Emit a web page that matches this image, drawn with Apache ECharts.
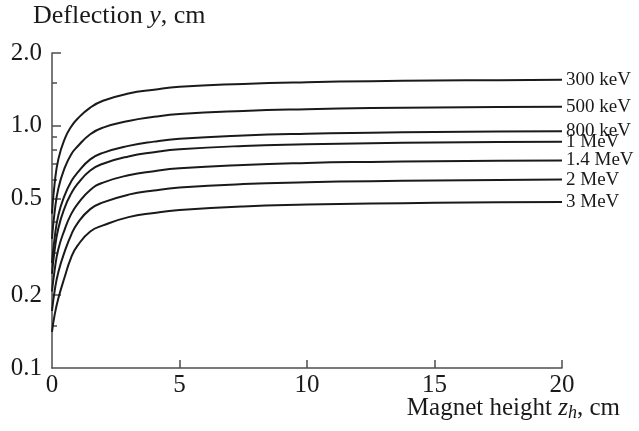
<!DOCTYPE html>
<html>
<head>
<meta charset="utf-8">
<script src="https://cdn.jsdelivr.net/npm/echarts@6/dist/echarts.min.js"></script>
<style>
  html, body { margin: 0; padding: 0; background: #fff; }
  #chart { width: 639px; height: 431px; }
</style>
</head>
<body>
<div id="chart"></div>
<script>
// Magnet height z_h, cm
const zh = [0, 0.1, 0.25, 0.5, 0.75, 1, 1.5, 2, 3, 4, 5, 7.5, 10, 12.5, 15, 17.5, 20];

// Deflection y, cm for each electron energy
const y300keV = [0.434, 0.574, 0.729, 0.884, 0.992, 1.07, 1.19, 1.27, 1.36, 1.41, 1.45, 1.49, 1.515, 1.53, 1.54, 1.545, 1.55];
const y500keV = [0.342, 0.438, 0.552, 0.672, 0.762, 0.822, 0.924, 0.984, 1.048, 1.09, 1.12, 1.153, 1.172, 1.184, 1.192, 1.196, 1.2];
const y800keV = [0.271, 0.342, 0.428, 0.518, 0.589, 0.641, 0.727, 0.774, 0.827, 0.861, 0.884, 0.912, 0.928, 0.937, 0.943, 0.947, 0.95];
const y1MeV   = [0.245, 0.305, 0.378, 0.46, 0.525, 0.576, 0.654, 0.698, 0.748, 0.778, 0.80, 0.826, 0.839, 0.848, 0.854, 0.857, 0.86];
const y14MeV  = [0.207, 0.252, 0.31, 0.374, 0.432, 0.475, 0.544, 0.583, 0.625, 0.65, 0.668, 0.69, 0.703, 0.71, 0.714, 0.718, 0.72];
const y2MeV   = [0.172, 0.207, 0.249, 0.303, 0.354, 0.396, 0.453, 0.483, 0.52, 0.541, 0.556, 0.575, 0.585, 0.591, 0.595, 0.598, 0.60];
const y3MeV   = [0.141, 0.165, 0.194, 0.238, 0.286, 0.32, 0.366, 0.388, 0.42, 0.437, 0.449, 0.465, 0.473, 0.478, 0.481, 0.484, 0.485];

const energyNames = ['300 keV', '500 keV', '800 keV', '1 MeV', '1.4 MeV', '2 MeV', '3 MeV'];
const energySeries = [y300keV, y500keV, y800keV, y1MeV, y14MeV, y2MeV, y3MeV];

// Axis ticks
const xTicks = [0, 5, 10, 15, 20];
const yTicks = [0.1, 0.2, 0.5, 1.0, 2.0];
const yMinorTicks = [0.15, 0.3, 0.4, 0.6, 0.7, 0.8, 0.9, 1.5];

// The deflection axis is logarithmic: plot log10(y) on a linear axis
const lg = v => Math.log10(v);
const yMin = lg(yTicks[0]);
const yMax = lg(yTicks[yTicks.length - 1]);

const FONT = '"Liberation Serif", "Times New Roman", serif';
const INK = '#1a1a1a';
const AXIS = '#4d4d4d';

const chart = echarts.init(document.getElementById('chart'), null, { renderer: 'canvas' });

const series = energySeries.map((ys, i) => ({
  name: energyNames[i],
  type: 'line',
  xAxisIndex: 0,
  yAxisIndex: 0,
  data: zh.map((z, k) => [z, lg(ys[k])]),
  showSymbol: false,
  smooth: 0.5,
  lineStyle: { color: INK, width: 2 },
  endLabel: {
    show: true,
    formatter: '{a}',
    fontFamily: FONT,
    fontSize: 19,
    color: INK,
    distance: 4
  },
  emphasis: { disabled: true },
  z: 3
}));

chart.setOption({
  animation: false,
  backgroundColor: '#fff',
  grid: {
    left: 52, right: 77, top: 53, bottom: 63,
    outerBoundsMode: 'none'
  },
  xAxis: [{
    type: 'value',
    min: xTicks[0],
    max: xTicks[xTicks.length - 1],
    interval: 5,
    axisLine: { onZero: false, lineStyle: { color: AXIS, width: 1.5 } },
    axisTick: { inside: true, length: 8, lineStyle: { color: AXIS, width: 1.5 },
                customValues: xTicks.slice(1) },
    axisLabel: { fontFamily: FONT, fontSize: 25, color: INK, margin: 5,
                 customValues: xTicks },
    splitLine: { show: false }
  }],
  yAxis: [{
    type: 'value',
    min: yMin,
    max: yMax,
    axisLine: { onZero: false, lineStyle: { color: AXIS, width: 1.5 } },
    axisTick: { inside: true, length: 9, lineStyle: { color: AXIS, width: 1.5 },
                customValues: yTicks.slice(1).map(lg) },
    axisLabel: {
      fontFamily: FONT, fontSize: 25, color: INK, margin: 10,
      customValues: yTicks.map(lg),
      formatter: v => Math.pow(10, v).toFixed(1)
    },
    splitLine: { show: false }
  }, {
    // minor ticks of the logarithmic scale
    type: 'value',
    position: 'left',
    min: yMin,
    max: yMax,
    axisLine: { show: false, onZero: false },
    axisTick: { inside: true, length: 5, lineStyle: { color: AXIS, width: 1.5 },
                customValues: yMinorTicks.map(lg) },
    axisLabel: { show: false },
    splitLine: { show: false }
  }],
  graphic: [{
    type: 'text',
    left: 33,
    top: 3,
    style: {
      text: '{a|Deflection }{i|y}{a|, cm}',
      rich: {
        a: { fontFamily: FONT, fontSize: 26, fill: INK },
        i: { fontFamily: FONT, fontSize: 26, fontStyle: 'italic', fill: INK }
      }
    }
  }, {
    type: 'text',
    right: 19,
    top: 396,
    style: {
      text: '{a|Magnet height }{i|z}{s|h}{a|, cm}',
      rich: {
        a: { fontFamily: FONT, fontSize: 25, fill: INK },
        i: { fontFamily: FONT, fontSize: 25, fontStyle: 'italic', fill: INK },
        s: { fontFamily: FONT, fontSize: 18, fontStyle: 'italic', fill: INK, padding: [10, 0, 0, 0] }
      }
    }
  }],
  series: series
});
</script>
</body>
</html>
